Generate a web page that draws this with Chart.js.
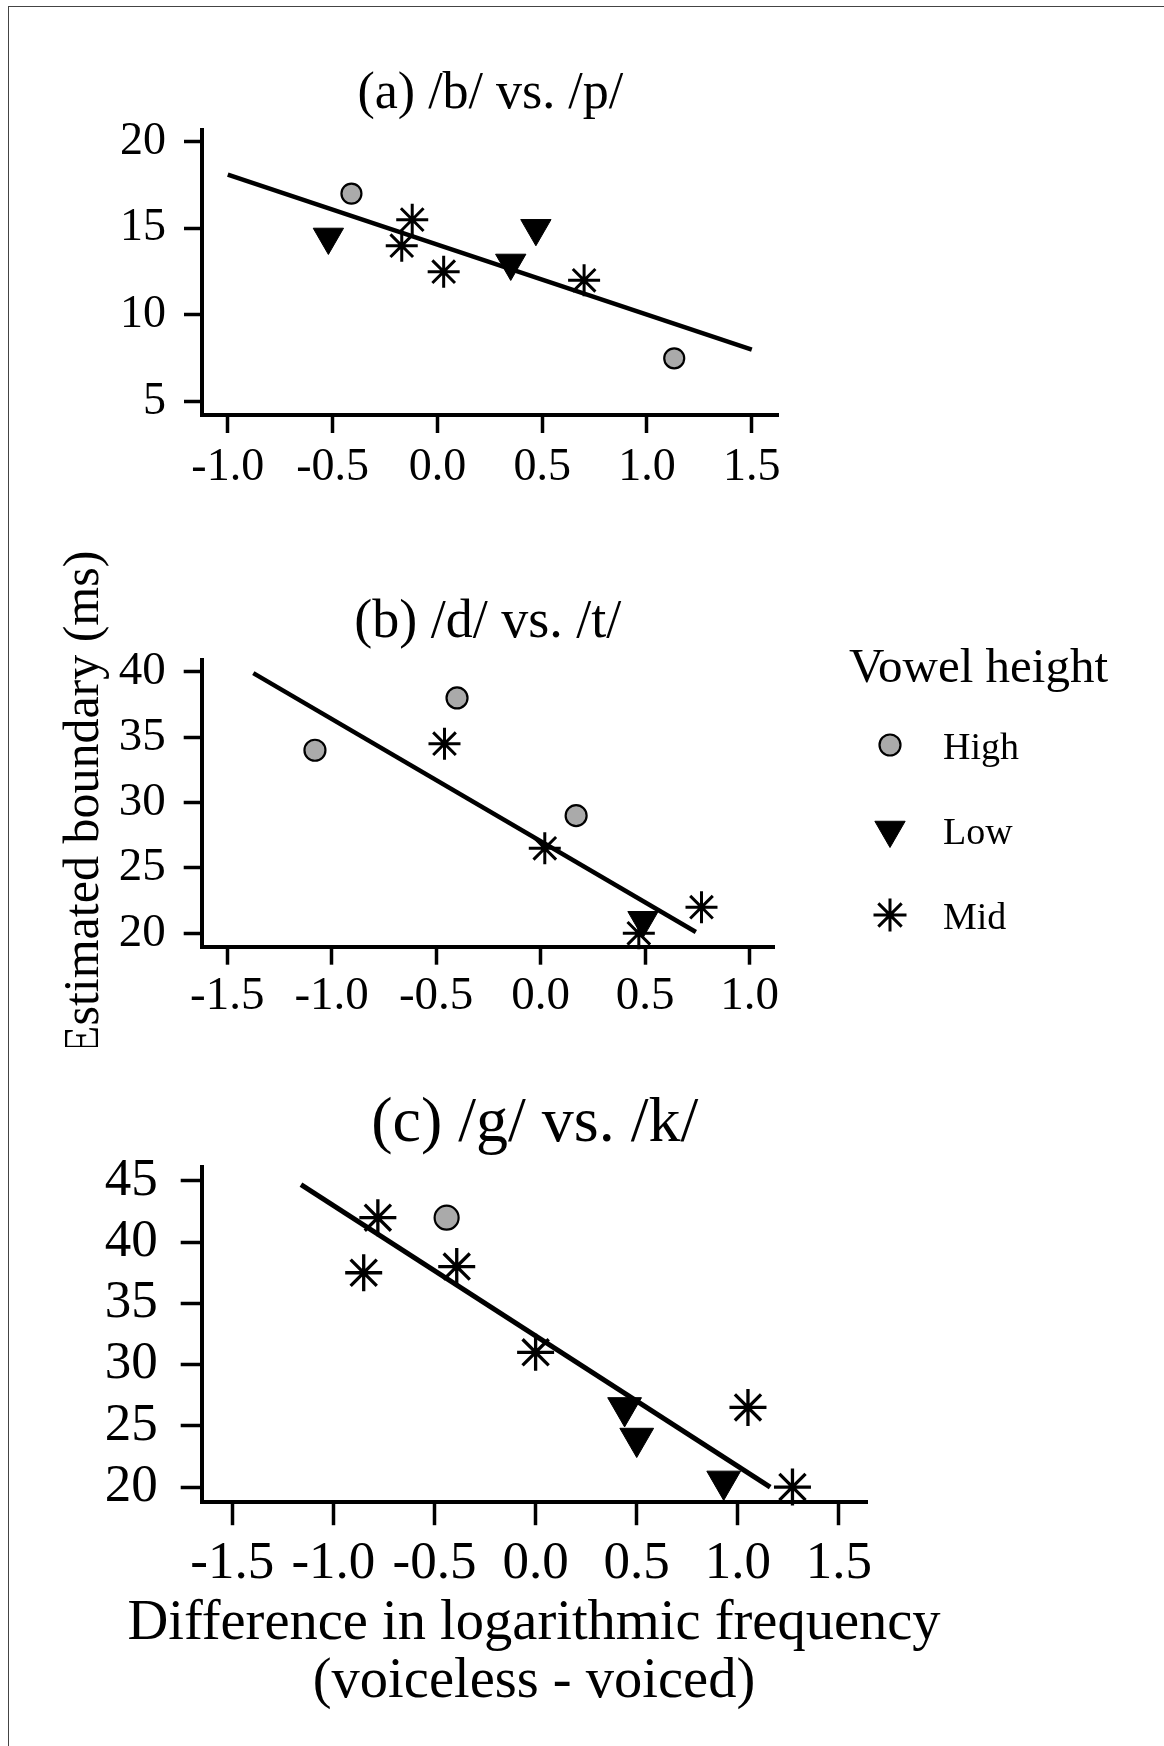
<!DOCTYPE html>
<html>
<head>
<meta charset="utf-8">
<script src="https://cdn.jsdelivr.net/npm/chart.js"></script>
<style>
  html, body { margin: 0; padding: 0; background: #fff; }
  #page { position: relative; width: 1164px; height: 1746px; overflow: hidden; background: #fff; }
  #frame { position: absolute; left: 8px; top: 6px; right: -4px; bottom: -4px;
           border-top: 1.5px solid #444; border-left: 1.5px solid #444; }
  canvas { position: absolute; left: 0; }
</style>
</head>
<body>
<div id="page">
  <div id="frame"></div>
  <canvas id="panelA" width="1164" height="515" style="top:0px"></canvas>
  <canvas id="panelB" width="1164" height="527" style="top:520px"></canvas>
  <canvas id="panelC" width="1068" height="661" style="top:1050px"></canvas>
</div>
<script>
// (a) /b/ vs. /p/
var aHighX = [-0.41, 1.13],               aHighY = [17.0, 7.5];
var aLowX  = [-0.52, 0.35, 0.47],         aLowY  = [14.5, 13.0, 15.0];
var aMidX  = [-0.12, -0.17, 0.03, 0.70],  aMidY  = [15.5, 14.0, 12.5, 12.0];
var aFitX  = [-1.0, 1.5],                 aFitY  = [18.1, 8.0];
var aXTicks = [-1.0, -0.5, 0.0, 0.5, 1.0, 1.5];
var aYTicks = [5, 10, 15, 20];

// (b) /d/ vs. /t/
var bHighX = [-1.08, -0.40, 0.17],        bHighY = [34.0, 38.0, 29.0];
var bLowX  = [0.49],                      bLowY  = [21.0];
var bMidX  = [-0.46, 0.02, 0.47, 0.77],   bMidY  = [34.5, 26.5, 20.0, 22.0];
var bFitX  = [-1.375, 0.743],             bFitY  = [39.9, 20.1];
var bXTicks = [-1.5, -1.0, -0.5, 0.0, 0.5, 1.0];
var bYTicks = [20, 25, 30, 35, 40];

// (c) /g/ vs. /k/
var cHighX = [-0.44],                     cHighY = [42.0];
var cLowX  = [0.44, 0.50, 0.93],          cLowY  = [26.5, 24.0, 20.5];
var cMidX  = [-0.78, -0.85, -0.39, 0.0, 1.05, 1.27];
var cMidY  = [42.0, 37.5, 38.0, 31.0, 26.5, 20.0];
var cFitX  = [-1.16, 1.16],               cFitY  = [44.7, 20.0];
var cXTicks = [-1.5, -1.0, -0.5, 0.0, 0.5, 1.0, 1.5];
var cYTicks = [20, 25, 30, 35, 40, 45];

var groupNames = ['High', 'Low', 'Mid'];
var legendTitle = 'Vowel height';
var yTitle = 'Estimated boundary (ms)';
var xTitle = ['Difference in logarithmic frequency', '(voiceless - voiced)'];

Chart.defaults.font.family = "'Liberation Serif', 'Times New Roman', serif";
Chart.defaults.color = '#000';

function pts(xs, ys) {
  return xs.map(function(x, i) { return { x: x, y: ys[i] }; });
}

// legend drawn at the right of panel (b)
var vowelLegend = {
  id: 'vowelLegend',
  afterDraw: function(chart) {
    var ctx = chart.ctx;
    ctx.save();
    ctx.fillStyle = '#000';
    ctx.textAlign = 'left';
    ctx.textBaseline = 'alphabetic';
    ctx.font = "49px 'Liberation Serif', serif";
    ctx.fillText(legendTitle, 849, 162);
    ctx.font = "38px 'Liberation Serif', serif";
    var marks = [
      { pointStyle: 'circle', radius: 10.5, rotation: 0, borderWidth: 2.2, fill: '#aaaaaa' },
      { pointStyle: 'triangle', radius: 17.5, rotation: 180, borderWidth: 1, fill: '#000' },
      { pointStyle: 'star', radius: 16.5, rotation: 0, borderWidth: 3, fill: '#000' }
    ];
    groupNames.forEach(function(name, i) {
      var y = 225 + i * 85;
      var m = marks[i];
      ctx.fillStyle = m.fill;
      ctx.strokeStyle = '#000';
      ctx.lineWidth = m.borderWidth;
      if (Chart.helpers && Chart.helpers.drawPoint) {
        Chart.helpers.drawPoint(ctx, m, 890, y);
      }
      ctx.fillStyle = '#000';
      ctx.fillText(name, 943, y + 13.5);
    });
    ctx.restore();
  }
};

function makePanel(id, p) {
  var datasets = [
    { type: 'line', data: pts(p.fitX, p.fitY), showLine: true, borderColor: '#000',
      borderWidth: p.lineWidth, pointRadius: 0, fill: false, clip: false },
    { label: groupNames[0], data: pts(p.highX, p.highY), pointStyle: 'circle',
      pointRadius: p.mark[0], pointBackgroundColor: '#aaaaaa', pointBorderColor: '#000',
      pointBorderWidth: 2.2, clip: false },
    { label: groupNames[1], data: pts(p.lowX, p.lowY), pointStyle: 'triangle', pointRotation: 180,
      pointRadius: p.mark[1], pointBackgroundColor: '#000', pointBorderColor: '#000',
      pointBorderWidth: 1, clip: false },
    { label: groupNames[2], data: pts(p.midX, p.midY), pointStyle: 'star',
      pointRadius: p.mark[2], pointBackgroundColor: '#000', pointBorderColor: '#000',
      pointBorderWidth: p.starWidth, clip: false }
  ];

  var scales = {
    x: {
      type: 'linear', min: p.xMin, max: p.xMax,
      afterBuildTicks: function(s) { s.ticks = p.xTicks.map(function(v) { return { value: v }; }); },
      afterFit: function(s) { s.height = p.xHeight; },
      ticks: {
        autoSkip: false, maxRotation: 0, minRotation: 0, padding: p.xPad, color: '#000',
        font: { size: p.tickSize },
        callback: function(v) { return Number(v).toFixed(1); }
      },
      grid: { drawOnChartArea: false, drawTicks: true, tickLength: p.xTickLen, tickWidth: 3.5, tickColor: '#000' },
      border: { display: true, color: '#000', width: 4 }
    },
    y: {
      type: 'linear', min: p.yMin, max: p.yMax,
      afterBuildTicks: function(s) { s.ticks = p.yTicks.map(function(v) { return { value: v }; }); },
      afterFit: function(s) { s.width = p.yWidth; },
      ticks: {
        autoSkip: false, padding: p.yPad, color: '#000',
        font: { size: p.tickSize },
        callback: function(v) { return String(v); }
      },
      grid: { drawOnChartArea: false, drawTicks: true, tickLength: p.yTickLen, tickWidth: 3.5, tickColor: '#000' },
      border: { display: true, color: '#000', width: 4 },
      title: p.yTitle || { display: false }
    }
  };

  // empty right-hand box so full-width text stays centred on the canvas
  if (p.rightBox) {
    scales.yRight = {
      type: 'linear', position: 'right', display: true,
      grid: { display: false, drawTicks: false }, border: { display: false },
      ticks: { display: false },
      afterFit: function(s) { s.width = p.rightBox; }
    };
  }

  return new Chart(document.getElementById(id), {
    type: 'scatter',
    data: { datasets: datasets },
    plugins: p.plugins || [],
    options: {
      responsive: false,
      animation: false,
      events: [],
      layout: { padding: { left: 0, right: p.padRight, top: 0, bottom: 0 } },
      plugins: {
        legend: { display: false },
        tooltip: { enabled: false },
        title: {
          display: true, text: p.title, fullSize: false, color: '#000',
          font: { size: p.titleSize, weight: 'normal' },
          padding: { top: p.titleTop, bottom: p.titleBottom }
        },
        subtitle: p.subtitle || { display: false }
      },
      scales: scales
    }
  });
}

makePanel('panelA', {
  title: '(a) /b/ vs. /p/', titleSize: 52, titleTop: 63, titleBottom: 4.6,
  highX: aHighX, highY: aHighY, lowX: aLowX, lowY: aLowY, midX: aMidX, midY: aMidY,
  fitX: aFitX, fitY: aFitY, xTicks: aXTicks, yTicks: aYTicks,
  xMin: -1.123, xMax: 1.628, yMin: 4.23, yMax: 20.67,
  padRight: 385.4, yWidth: 202, xHeight: 100,
  tickSize: 46, xTickLen: 18, yTickLen: 18, xPad: 7, yPad: 18,
  mark: [10, 17.5, 16], starWidth: 3, lineWidth: 4.5
});

makePanel('panelB', {
  title: '(b) /d/ vs. /t/', titleSize: 54, titleTop: 70.4, titleBottom: 4.8,
  highX: bHighX, highY: bHighY, lowX: bLowX, lowY: bLowY, midX: bMidX, midY: bMidY,
  fitX: bFitX, fitY: bFitY, xTicks: bXTicks, yTicks: bYTicks,
  xMin: -1.622, xMax: 1.117, yMin: 18.98, yMax: 40.9,
  padRight: 390, yWidth: 201.7, xHeight: 100.3,
  tickSize: 47, xTickLen: 18, yTickLen: 18, xPad: 3.5, yPad: 18,
  mark: [10.5, 17.5, 16], starWidth: 3, lineWidth: 4.5,
  yTitle: { display: true, text: yTitle, color: '#000', font: { size: 50 }, padding: { top: 55, bottom: 0 } },
  plugins: [vowelLegend]
});

makePanel('panelC', {
  title: '(c) /g/ vs. /k/', titleSize: 64, titleTop: 35.5, titleBottom: 4.4,
  highX: cHighX, highY: cHighY, lowX: cLowX, lowY: cLowY, midX: cMidX, midY: cMidY,
  fitX: cFitX, fitY: cFitY, xTicks: cXTicks, yTicks: cYTicks,
  xMin: -1.651, xMax: 1.642, yMin: 18.76, yMax: 46.16,
  padRight: 0, rightBox: 200.3, yWidth: 201.7, xHeight: 89.4,
  tickSize: 53, xTickLen: 23, yTickLen: 21, xPad: 7, yPad: 23,
  mark: [12, 19.5, 18.5], starWidth: 3.3, lineWidth: 5,
  subtitle: {
    display: true, position: 'bottom', fullSize: true, text: xTitle, color: '#000',
    font: { size: 56.5, weight: 'normal', lineHeight: 1.03 }, padding: { top: 3, bottom: 0 }
  }
});
</script>
</body>
</html>
